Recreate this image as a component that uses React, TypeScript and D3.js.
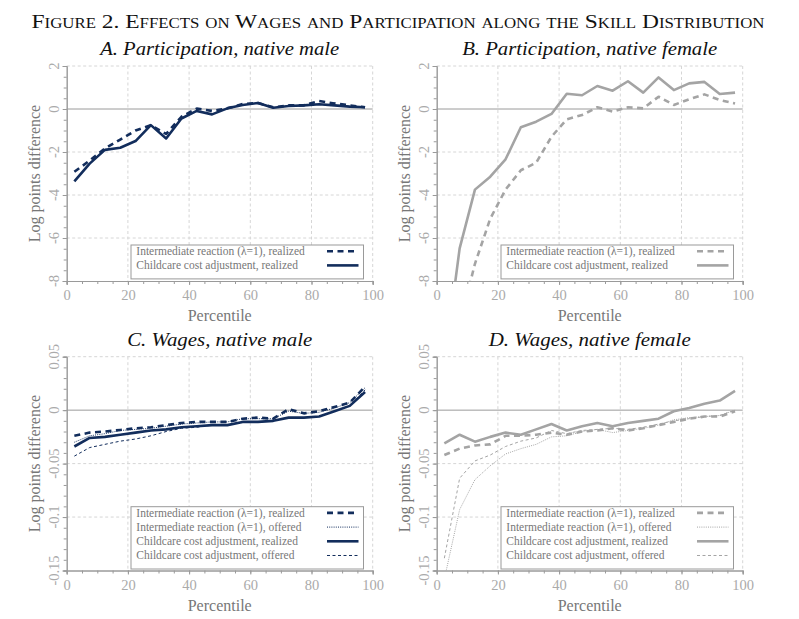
import * as d3 from "d3";
import { useRef, useEffect } from "react";

// percentile bins (midpoints of 5-pt bins)
const percentiles = [2.5, 7.5, 12.5, 17.5, 22.5, 27.5, 32.5, 37.5, 42.5, 47.5, 52.5, 57.5, 62.5, 67.5, 72.5, 77.5, 82.5, 87.5, 92.5, 97.5];

// A. participation, native male
const partMaleInterRealized = [-2.92, -2.4, -1.84, -1.42, -1.0, -0.75, -1.16, -0.36, 0.02, -0.09, 0.03, 0.23, 0.28, 0.08, 0.17, 0.17, 0.37, 0.26, 0.17, 0.08];
const partMaleChildRealized = [-3.37, -2.54, -1.9, -1.8, -1.49, -0.75, -1.37, -0.44, -0.09, -0.25, 0.03, 0.19, 0.28, 0.06, 0.14, 0.17, 0.22, 0.17, 0.11, 0.08];

// B. participation, native female (first points fall below the axis)
const partFemInterRealized = [-14, -10, -7.2, -5.1, -3.75, -2.85, -2.5, -1.29, -0.48, -0.28, 0.08, -0.12, 0.08, 0.03, 0.57, 0.19, 0.45, 0.68, 0.42, 0.26];
const partFemChildRealized = [-11.9, -6.48, -3.75, -3.15, -2.34, -0.85, -0.59, -0.23, 0.71, 0.64, 1.07, 0.85, 1.29, 0.76, 1.47, 0.88, 1.19, 1.26, 0.7, 0.76];

// C. wages, native male
const wageMaleInterRealized = [-0.024, -0.021, -0.02, -0.0185, -0.017, -0.016, -0.014, -0.012, -0.011, -0.011, -0.011, -0.008, -0.007, -0.008, 0.001, -0.003, -0.001, 0.003, 0.007, 0.022];
const wageMaleInterOffered = [-0.03, -0.024, -0.022, -0.019, -0.018, -0.017, -0.015, -0.013, -0.012, -0.011, -0.011, -0.008, -0.008, -0.008, -0.001, -0.003, -0.002, 0.002, 0.007, 0.021];
const wageMaleChildRealized = [-0.034, -0.026, -0.025, -0.023, -0.021, -0.019, -0.018, -0.016, -0.015, -0.014, -0.014, -0.011, -0.011, -0.01, -0.007, -0.007, -0.006, -0.001, 0.004, 0.017];
const wageMaleChildOffered = [-0.043, -0.035, -0.032, -0.029, -0.027, -0.024, -0.02, -0.017, -0.016, -0.014, -0.014, -0.011, -0.011, -0.01, -0.007, -0.007, -0.006, -0.001, 0.004, 0.019];

// D. wages, native female
const wageFemInterRealized = [-0.042, -0.036, -0.033, -0.032, -0.024, -0.024, -0.023, -0.021, -0.023, -0.02, -0.019, -0.017, -0.019, -0.017, -0.014, -0.011, -0.008, -0.006, -0.006, -0.001];
const wageFemInterOffered = [-0.158, -0.093, -0.065, -0.052, -0.041, -0.036, -0.032, -0.025, -0.024, -0.02, -0.018, -0.021, -0.019, -0.017, -0.014, -0.009, -0.007, -0.006, -0.005, 0.0];
const wageFemChildRealized = [-0.031, -0.023, -0.0295, -0.025, -0.021, -0.023, -0.018, -0.013, -0.019, -0.015, -0.012, -0.015, -0.012, -0.01, -0.008, -0.001, 0.002, 0.006, 0.009, 0.018];
const wageFemChildOffered = [-0.1385, -0.0637, -0.0475, -0.042, -0.034, -0.029, -0.026, -0.019, -0.022, -0.019, -0.018, -0.017, -0.018, -0.016, -0.013, -0.01, -0.008, -0.006, -0.005, 0.0];

const xTicks = [0, 20, 40, 60, 80, 100];
const partTicks = [-8, -6, -4, -2, 0, 2];
const wageTicks = [-0.15, -0.1, -0.05, 0, 0.05];

const LBL_IR = "Intermediate reaction (\u03bb=1), realized";
const LBL_IO = "Intermediate reaction (\u03bb=1), offered";
const LBL_CR = "Childcare cost adjustment, realized";
const LBL_CO = "Childcare cost adjustment, offered";

const NAVY = "#122d5c";
const GREY = "#a4a4a4";
const FONT = "Liberation Serif";

type Kind = "ir" | "io" | "cr" | "co";
const styles: Record<Kind, { w: number; dash: string | null }> = {
  ir: { w: 2.6, dash: "6 4.5" },
  io: { w: 1, dash: "1 1.2" },
  cr: { w: 2.6, dash: null },
  co: { w: 1, dash: "3 2.5" },
};

type Panel = {
  title: string;
  titleW: number;
  left: number;
  top: number;
  h: number;
  color: string;
  domain: [number, number];
  ticks: number[];
  minor: number;
  legendTop: number;
  series: { kind: Kind; label: string; values: number[] }[];
};

const W_PLOT = 306;

const panels: Panel[] = [
  {
    title: "A. Participation, native male", titleW: 239,
    left: 66.7, top: 66, h: 215, color: NAVY, domain: [-8, 2], ticks: partTicks, minor: 0.5, legendTop: 245,
    series: [
      { kind: "ir", label: LBL_IR, values: partMaleInterRealized },
      { kind: "cr", label: LBL_CR, values: partMaleChildRealized },
    ],
  },
  {
    title: "B. Participation, native female", titleW: 255,
    left: 436.7, top: 66, h: 215, color: GREY, domain: [-8, 2], ticks: partTicks, minor: 0.5, legendTop: 245,
    series: [
      { kind: "ir", label: LBL_IR, values: partFemInterRealized },
      { kind: "cr", label: LBL_CR, values: partFemChildRealized },
    ],
  },
  {
    title: "C. Wages, native male", titleW: 185,
    left: 66.7, top: 356.7, h: 213.8, color: NAVY, domain: [-0.15, 0.05], ticks: wageTicks, minor: 0.01, legendTop: 506.7,
    series: [
      { kind: "ir", label: LBL_IR, values: wageMaleInterRealized },
      { kind: "io", label: LBL_IO, values: wageMaleInterOffered },
      { kind: "cr", label: LBL_CR, values: wageMaleChildRealized },
      { kind: "co", label: LBL_CO, values: wageMaleChildOffered },
    ],
  },
  {
    title: "D. Wages, native female", titleW: 202,
    left: 436.7, top: 356.7, h: 213.8, color: GREY, domain: [-0.15, 0.05], ticks: wageTicks, minor: 0.01, legendTop: 506.7,
    series: [
      { kind: "ir", label: LBL_IR, values: wageFemInterRealized },
      { kind: "io", label: LBL_IO, values: wageFemInterOffered },
      { kind: "cr", label: LBL_CR, values: wageFemChildRealized },
      { kind: "co", label: LBL_CO, values: wageFemChildOffered },
    ],
  },
];

export default function App() {
  const svgRef = useRef<SVGSVGElement | null>(null);

  useEffect(() => {
    const svg = d3.select(svgRef.current);
    svg.selectAll("*").remove();

    svg.append("rect").attr("width", 799).attr("height", 619).attr("fill", "white");

    svg.append("text")
      .attr("x", 398).attr("y", 28)
      .attr("text-anchor", "middle")
      .style("font-family", FONT)
      .style("font-size", "19.5px")
      .style("font-variant", "small-caps")
      .attr("textLength", 733)
      .attr("lengthAdjust", "spacingAndGlyphs")
      .attr("fill", "#111")
      .text("Figure 2. Effects on Wages and Participation along the Skill Distribution");

    panels.forEach((p, pi) => {
      const x = d3.scaleLinear().domain([0, 100]).range([p.left, p.left + W_PLOT]);
      const y = d3.scaleLinear().domain(p.domain).range([p.top + p.h, p.top]);
      const g = svg.append("g");
      const bottom = p.top + p.h;
      const cx = p.left + W_PLOT / 2;

      // title
      g.append("text")
        .attr("x", cx).attr("y", p.top - 11)
        .attr("text-anchor", "middle")
        .style("font-family", FONT)
        .style("font-size", "19px")
        .style("font-style", "italic")
        .attr("textLength", p.titleW)
        .attr("lengthAdjust", "spacingAndGlyphs")
        .attr("fill", "#111")
        .text(p.title);

      // grid
      g.append("g").selectAll("line")
        .data(xTicks.filter(t => t > 0))
        .join("line")
        .attr("x1", d => x(d)).attr("x2", d => x(d))
        .attr("y1", p.top).attr("y2", bottom)
        .attr("stroke", "#d6d6d6").attr("stroke-dasharray", "3 2.5").attr("stroke-width", 1);
      g.append("g").selectAll("line")
        .data(p.ticks.filter(t => t !== p.domain[0] && t !== 0))
        .join("line")
        .attr("x1", p.left).attr("x2", p.left + W_PLOT)
        .attr("y1", d => y(d)).attr("y2", d => y(d))
        .attr("stroke", "#d6d6d6").attr("stroke-dasharray", "3 2.5").attr("stroke-width", 1);

      // zero line
      g.append("line")
        .attr("x1", p.left).attr("x2", p.left + W_PLOT)
        .attr("y1", y(0)).attr("y2", y(0))
        .attr("stroke", "#9a9a9a").attr("stroke-width", 1);

      // axes
      const xAxis = d3.axisBottom(x).tickValues(xTicks).tickSize(4).tickPadding(5).tickFormat(d => String(d));
      const xMinor = d3.axisBottom(x).tickValues(d3.range(0, 101, 5)).tickSize(3).tickFormat(() => "");
      const ax = g.append("g").attr("transform", `translate(0,${bottom})`);
      ax.append("g").call(xMinor);
      ax.append("g").call(xAxis);
      ax.selectAll("path").attr("stroke", "#9a9a9a");
      ax.selectAll("line").attr("stroke", "#9a9a9a");
      ax.selectAll("text")
        .style("font-family", FONT).style("font-size", "14.5px").attr("fill", "#aaa");

      const nMinor = Math.round((p.domain[1] - p.domain[0]) / p.minor);
      const minorVals = d3.range(nMinor + 1).map(i => p.domain[0] + i * p.minor);
      const yMinor = d3.axisLeft(y).tickValues(minorVals).tickSize(3).tickFormat(() => "");
      const yAxis = d3.axisLeft(y).tickValues(p.ticks).tickSize(4).tickFormat(() => "");
      const ay = g.append("g").attr("transform", `translate(${p.left},0)`);
      ay.append("g").call(yMinor);
      ay.append("g").call(yAxis);
      ay.selectAll("path").attr("stroke", "#9a9a9a");
      ay.selectAll("line").attr("stroke", "#9a9a9a");

      // rotated y tick labels
      g.append("g").selectAll("text")
        .data(p.ticks)
        .join("text")
        .attr("transform", d => `translate(${p.left - 7.5},${y(d)}) rotate(-90)`)
        .attr("text-anchor", "middle")
        .style("font-family", FONT)
        .style("font-size", "14.5px")
        .attr("fill", "#aaa")
        .text(d => String(d));

      // axis titles
      g.append("text")
        .attr("x", cx).attr("y", bottom + 40)
        .attr("text-anchor", "middle")
        .style("font-family", FONT)
        .style("font-size", "16px")
        .attr("fill", "#777")
        .text("Percentile");
      g.append("text")
        .attr("transform", `translate(${p.left - 26.7},${p.top + p.h / 2}) rotate(-90)`)
        .attr("text-anchor", "middle")
        .style("font-family", FONT)
        .style("font-size", "16px")
        .attr("fill", "#777")
        .text("Log points difference");

      // lines, clipped to the plot area
      const clipId = `clip-${pi}`;
      svg.append("clipPath").attr("id", clipId)
        .append("rect")
        .attr("x", p.left).attr("y", p.top - 2)
        .attr("width", W_PLOT).attr("height", p.h + 2);

      const line = d3.line<number>()
        .x((_, i) => x(percentiles[i]))
        .y(d => y(d));

      const drawOrder: Kind[] = ["co", "io", "cr", "ir"];
      const lines = g.append("g").attr("clip-path", `url(#${clipId})`);
      drawOrder.forEach(k => {
        const s = p.series.find(ss => ss.kind === k);
        if (!s) return;
        lines.append("path")
          .attr("d", line(s.values))
          .attr("fill", "none")
          .attr("stroke", p.color)
          .attr("stroke-width", styles[k].w)
          .attr("stroke-dasharray", styles[k].dash ?? null)
          .attr("stroke-linejoin", "round");
      });

      // legend
      const rowH = 14.2;
      const lx = p.left + 64.3;
      const lw = 232.5;
      const lh = p.series.length * rowH + 5.5;
      const leg = g.append("g");
      leg.append("rect")
        .attr("x", lx).attr("y", p.legendTop)
        .attr("width", lw).attr("height", lh)
        .attr("fill", "white")
        .attr("stroke", "#9a9a9a").attr("stroke-width", 1);
      const rows = leg.selectAll("g.row")
        .data(p.series)
        .join("g")
        .attr("class", "row")
        .attr("transform", (_, i) => `translate(0,${p.legendTop + 10 + i * rowH})`);
      rows.append("text")
        .attr("x", lx + 5.3).attr("y", 0)
        .style("font-family", FONT)
        .style("font-size", "11.5px")
        .attr("fill", "#777")
        .text(d => d.label);
      rows.append("line")
        .attr("x1", lx + lw - 36.5).attr("x2", lx + lw - 5)
        .attr("y1", -3.8).attr("y2", -3.8)
        .attr("stroke", p.color)
        .attr("stroke-width", d => styles[d.kind].w)
        .attr("stroke-dasharray", d => styles[d.kind].dash ?? null);
    });
  }, []);

  return (
    <svg
      ref={svgRef}
      width={799}
      height={619}
      style={{ position: "absolute", left: 0, top: 0, display: "block" }}
    />
  );
}
